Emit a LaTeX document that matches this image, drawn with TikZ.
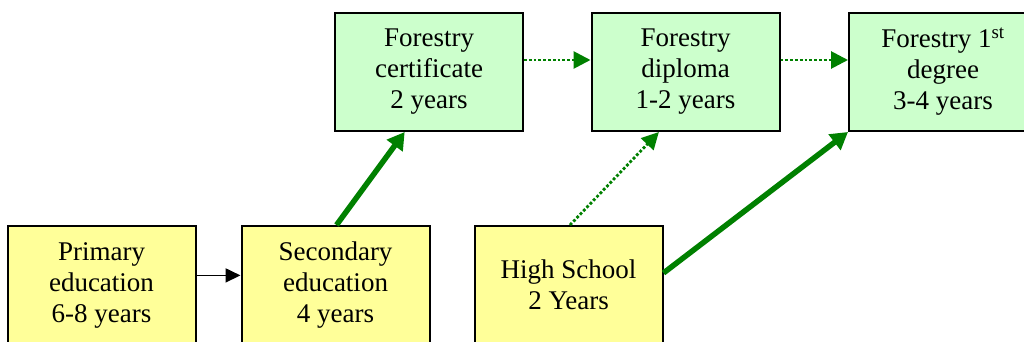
\documentclass[tikz,border=0pt]{standalone}
\usepackage{fontspec}
\setmainfont{Liberation Serif}
\usetikzlibrary{arrows.meta,calc}
\definecolor{boxgreen}{HTML}{CCFFCC}
\definecolor{boxyellow}{HTML}{FFFF99}
\definecolor{arrgreen}{HTML}{008000}
\begin{document}
\begin{tikzpicture}[x=1pt,y=-1pt,
  box/.style={draw=black,line width=2pt,minimum width=188pt,minimum height=118pt,
    inner sep=0pt,align=center,font=\fontsize{27}{31}\selectfont},
  gbox/.style={box,fill=boxgreen},
  ybox/.style={box,fill=boxyellow},
  thickarr/.style={draw=arrgreen,line width=5.5pt,-{Triangle[length=17pt,width=19pt]}},
  dotarr/.style={draw=arrgreen,line width=2.8pt,dotted,-{Triangle[length=17pt,width=17pt]}},
  blackarr/.style={draw=black,line width=1.8pt,-{Triangle[length=15pt,width=14pt]}}]
\useasboundingbox (0,0) rectangle (1024,342);
\clip (0,0) rectangle (1024,342);
\node[gbox] (cert) at (429,72) {Forestry\\certificate\\2 years};
\node[gbox] (dipl) at (685.5,72) {Forestry\\diploma\\1-2 years};
\node[gbox] (deg) at (943,72) {Forestry 1\textsuperscript{st}\\degree\\3-4 years};
\node[ybox] (prim) at (101.5,285) {Primary\\education\\6-8 years};
\node[ybox] (sec) at (335.5,285) {Secondary\\education\\4 years};
\node[ybox] (hs) at (568.5,285) {High School\\2 Years};
\coordinate (certin) at ($(cert.south west)!0.372!(cert.south east)$);
\coordinate (diplin) at ($(dipl.south west)!0.36!(dipl.south east)$);
\coordinate (hsout) at ($(hs.north east)!0.4!(hs.south east)$);
\coordinate (primout) at ($(prim.north east)!0.42!(prim.south east)$);
\coordinate (secin) at ($(sec.north west)!0.42!(sec.south west)$);
\draw[blackarr] (primout) -- (secin);
\draw[thickarr] ([xshift=1pt]sec.north) -- (certin);
\draw[dotarr] ([yshift=12pt]cert.east) -- ([yshift=12pt]dipl.west);
\draw[dotarr] ([yshift=12pt]dipl.east) -- ([yshift=12pt]deg.west);
\draw[dotarr] ([xshift=1.5pt]hs.north) -- (diplin);
\draw[thickarr] (hsout) -- (deg.south west);
\end{tikzpicture}
\end{document}
